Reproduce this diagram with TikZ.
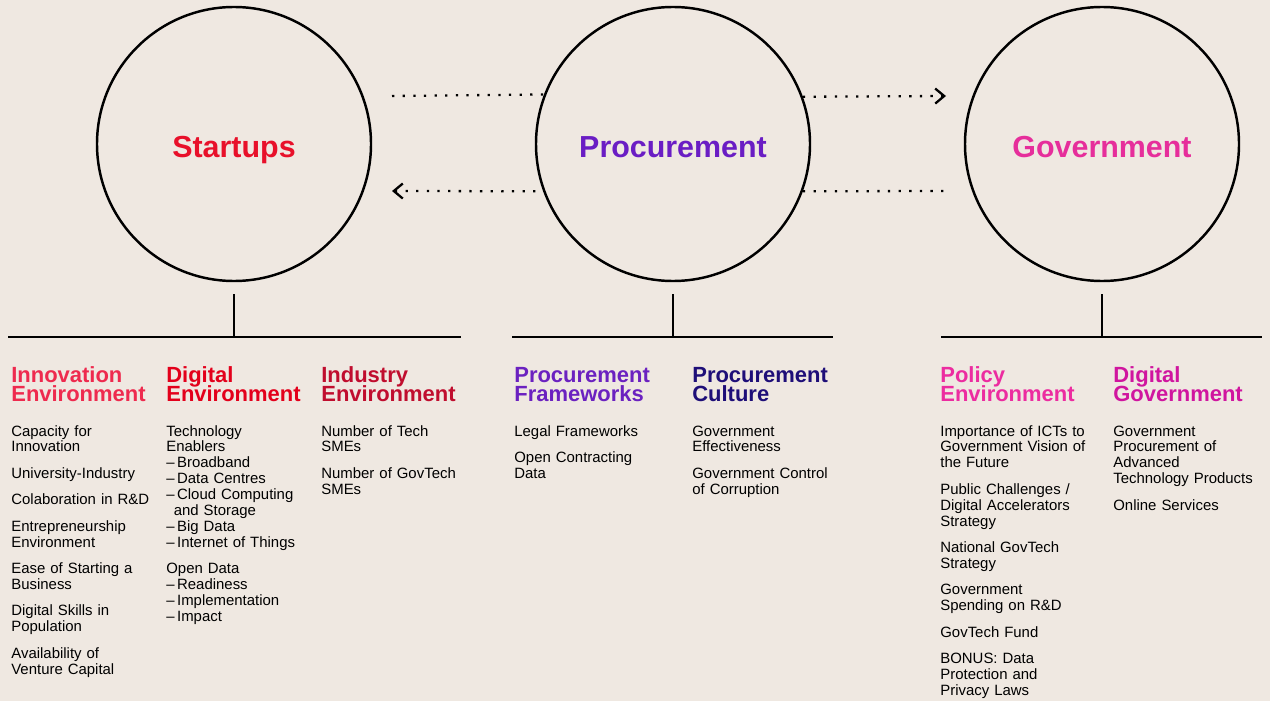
\documentclass[tikz,border=0pt]{standalone}
\usepackage{fontspec}
\setmainfont{Liberation Sans}
\usepackage{xcolor}
\usepackage{tikz}
\usetikzlibrary{positioning,arrows.meta}

\definecolor{paper}{HTML}{EFE8E1}
\definecolor{startred}{HTML}{E8102A}
\definecolor{innovred}{HTML}{EE2A4E}
\definecolor{digired}{HTML}{E3001B}
\definecolor{indred}{HTML}{C00D2E}
\definecolor{procpurple}{HTML}{6A1DC4}
\definecolor{frampurple}{HTML}{6B21C0}
\definecolor{cultnavy}{HTML}{1E0E78}
\definecolor{govpink}{HTML}{E62E9B}
\definecolor{polpink}{HTML}{EC2CA0}
\definecolor{dgovpink}{HTML}{D0159F}

\newcommand{\nextitem}{\\[5.95pt]}
\newcommand{\tightlines}{\lineskiplimit=-20pt\relax}

\begin{document}
\begin{tikzpicture}[x=0.2mm, y=-0.2mm,
  hub/.style={circle, draw=black, line width=1.4pt, fill=paper, minimum size=54.8mm, inner sep=0pt,
    font=\fontsize{17.3}{20}\selectfont\bfseries, text height=15.9pt, text depth=0pt},
  flow/.style={line width=1.3pt, dash pattern=on 1.3pt off 4.75pt},
  bar/.style={line width=1.3pt},
  stem/.style={line width=1.15pt},
  colhead/.style={anchor=base west, inner sep=0pt, text width=33mm, align=left,
    font=\fontsize{12.5}{11.34}\selectfont\bfseries\tightlines},
  collist/.style={anchor=base west, inner sep=0pt, text width=33mm, align=left,
    font=\fontsize{8.5}{9.07}\selectfont\tightlines},
  >={Straight Barb[length=1.8mm, width=3mm]}
]
% Page
\fill[paper] (0,0) rectangle (1270,701);
\useasboundingbox (0,0) rectangle (1270,701);

% Circles
\node[hub, text=startred] (startups) at (234,144) {Startups};
\node[hub, text=procpurple] (procurement) at (673,144) {Procurement};
\node[hub, text=govpink] (government) at (1102,144) {Government};

% Dotted flows (behind the middle circle)
\coordinate (topstart) at (392,96);
\coordinate (topend) at (946,96);
\coordinate (botstart) at (392,191);
\coordinate (botend) at (947,191);
\draw[flow] (topstart) -- (procurement.159.5);
\draw[flow, ->] (procurement.20.5) -- (topend);
\draw[flow, <-] (botstart) -- (procurement.200);
\draw[flow] (procurement.-20) -- (botend);

% Bars and stems
\coordinate (startbarl) at (8,337);
\coordinate (startbarr) at (461,337);
\coordinate (procbarl) at (512,337);
\coordinate (procbarr) at (833,337);
\coordinate (govbarl) at (941,337);
\coordinate (govbarr) at (1262,337);
\draw[bar] (startbarl) -- (startbarr);
\draw[bar] (procbarl) -- (procbarr);
\draw[bar] (govbarl) -- (govbarr);
\draw[stem] ([yshift=-2.4mm]startups.south) -- (startups.south |- startbarl);
\draw[stem] ([yshift=-2.4mm]procurement.south) -- (procurement.south |- procbarl);
\draw[stem] ([yshift=-2.4mm]government.south) -- (government.south |- govbarl);

% Startups columns
\node[colhead, text=innovred] (innovhead) at (11,382) {Innovation\\Environment};
\node[collist] (innovlist) at (11,436) {Capacity for\\Innovation\nextitem
  University-Industry\nextitem
  Colaboration in R\&D\nextitem
  Entrepreneurship\\Environment\nextitem
  Ease of Starting a\\Business\nextitem
  Digital Skills in\\Population\nextitem
  Availability of\\Venture Capital};

\node[colhead, text=digired] (digihead) at (166,382) {Digital\\Environment};
\node[collist] (digilist) at (166,436) {Technology\\Enablers\\
  --\,Broadband\\
  --\,Data Centres\\
  --\,Cloud Computing\\
  \hspace*{0.5em}and Storage\\
  --\,Big Data\\
  --\,Internet of Things\nextitem
  Open Data\\
  --\,Readiness\\
  --\,Implementation\\
  --\,Impact};

\node[colhead, text=indred] (indhead) at (321,382) {Industry\\Environment};
\node[collist] (indlist) at (321,436) {Number of Tech\\SMEs\nextitem
  Number of GovTech\\SMEs};

% Procurement columns
\node[colhead, text=frampurple] (framhead) at (514,382) {Procurement\\Frameworks};
\node[collist] (framlist) at (514,436) {Legal Frameworks\nextitem
  Open Contracting\\Data};

\node[colhead, text=cultnavy] (culthead) at (692,382) {Procurement\\Culture};
\node[collist] (cultlist) at (692,436) {Government\\Effectiveness\nextitem
  Government Control\\of Corruption};

% Government columns
\node[colhead, text=polpink] (polhead) at (940,382) {Policy\\Environment};
\node[collist] (pollist) at (940,436) {Importance of ICTs to\\Government Vision of\\the Future\nextitem
  Public Challenges /\\Digital Accelerators\\Strategy\nextitem
  National GovTech\\Strategy\nextitem
  Government\\Spending on R\&D\nextitem
  GovTech Fund\nextitem
  BONUS: Data\\Protection and\\Privacy Laws};

\node[colhead, text=dgovpink] (dgovhead) at (1113,382) {Digital\\Government};
\node[collist] (dgovlist) at (1113,436) {Government\\Procurement of\\Advanced\\Technology Products\nextitem
  Online Services};
\end{tikzpicture}
\end{document}
